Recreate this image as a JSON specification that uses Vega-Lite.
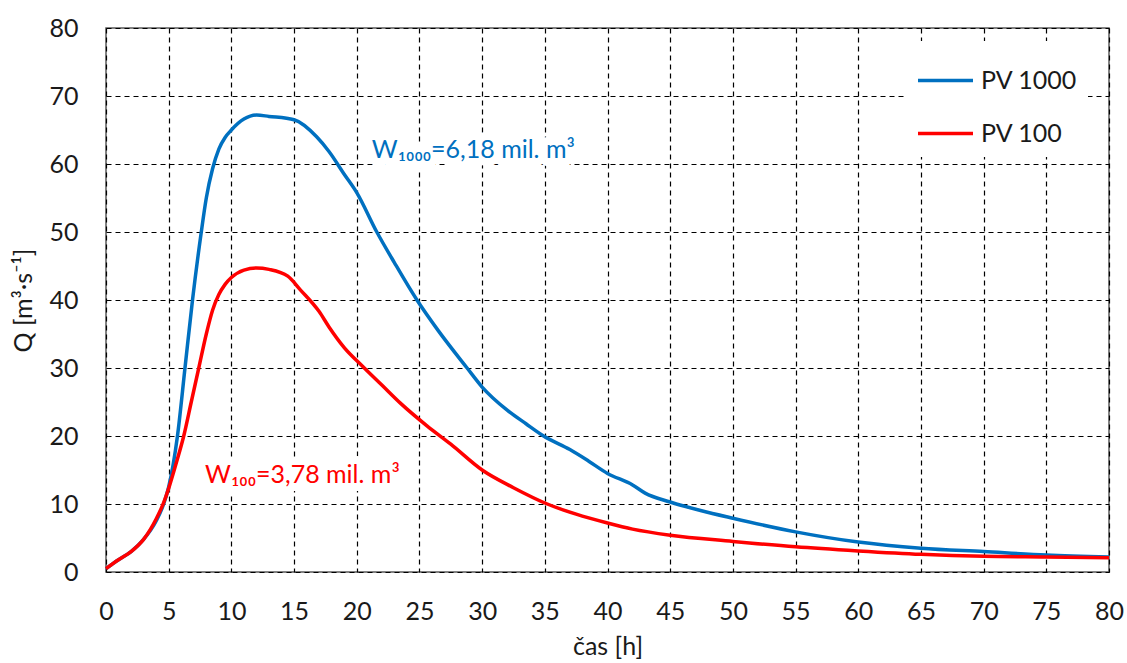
{
  "$schema": "https://vega.github.io/schema/vega-lite/v6.json",
  "width": 1003,
  "height": 544,
  "autosize": "none",
  "padding": {"left": 106, "top": 28, "right": 18, "bottom": 91},
  "background": "white",
  "config": {
    "font": "Lato",
    "view": {"stroke": "#595959", "strokeWidth": 1.5},
    "axis": {
      "labelFont": "Lato", "labelFontSize": 25, "labelColor": "#1a1a1a", "labelFlush": false,
      "titleFont": "Lato", "titleFontSize": 25, "titleColor": "#1a1a1a", "titleFontWeight": "normal",
      "ticks": false, "tickSize": 0, "domain": false,
      "grid": true, "gridColor": "#000000", "gridDash": [5, 4], "gridWidth": 1.2, "gridOpacity": 1
    },
    "legend": {"labelFont": "Lato", "labelFontSize": 25, "labelColor": "#1a1a1a"}
  },
  "datasets": {
    "flow": [
      {"t": 0, "Q": 0.5, "series": "PV 1000"},
      {"t": 1, "Q": 1.8, "series": "PV 1000"},
      {"t": 2, "Q": 3.0, "series": "PV 1000"},
      {"t": 3, "Q": 4.8, "series": "PV 1000"},
      {"t": 4, "Q": 7.5, "series": "PV 1000"},
      {"t": 4.6, "Q": 10, "series": "PV 1000"},
      {"t": 5, "Q": 12.5, "series": "PV 1000"},
      {"t": 5.7, "Q": 20, "series": "PV 1000"},
      {"t": 6.3, "Q": 30, "series": "PV 1000"},
      {"t": 6.9, "Q": 40, "series": "PV 1000"},
      {"t": 7.6, "Q": 50, "series": "PV 1000"},
      {"t": 8.0, "Q": 55, "series": "PV 1000"},
      {"t": 8.5, "Q": 59.3, "series": "PV 1000"},
      {"t": 9.0, "Q": 62.2, "series": "PV 1000"},
      {"t": 9.5, "Q": 63.9, "series": "PV 1000"},
      {"t": 10, "Q": 65.0, "series": "PV 1000"},
      {"t": 11, "Q": 66.6, "series": "PV 1000"},
      {"t": 12, "Q": 67.2, "series": "PV 1000"},
      {"t": 13, "Q": 67.0, "series": "PV 1000"},
      {"t": 15, "Q": 66.5, "series": "PV 1000"},
      {"t": 16.8, "Q": 64, "series": "PV 1000"},
      {"t": 17.8, "Q": 61.8, "series": "PV 1000"},
      {"t": 19, "Q": 58.5, "series": "PV 1000"},
      {"t": 20, "Q": 55.8, "series": "PV 1000"},
      {"t": 21.6, "Q": 50, "series": "PV 1000"},
      {"t": 23, "Q": 45.5, "series": "PV 1000"},
      {"t": 24.8, "Q": 40, "series": "PV 1000"},
      {"t": 26.5, "Q": 35.5, "series": "PV 1000"},
      {"t": 28.8, "Q": 30, "series": "PV 1000"},
      {"t": 30, "Q": 27.2, "series": "PV 1000"},
      {"t": 32, "Q": 23.8, "series": "PV 1000"},
      {"t": 33.5, "Q": 21.8, "series": "PV 1000"},
      {"t": 34.9, "Q": 20, "series": "PV 1000"},
      {"t": 37, "Q": 18, "series": "PV 1000"},
      {"t": 38.5, "Q": 16.3, "series": "PV 1000"},
      {"t": 40, "Q": 14.5, "series": "PV 1000"},
      {"t": 42, "Q": 12.8, "series": "PV 1000"},
      {"t": 43, "Q": 11.6, "series": "PV 1000"},
      {"t": 45, "Q": 10.3, "series": "PV 1000"},
      {"t": 47.5, "Q": 9.0, "series": "PV 1000"},
      {"t": 50, "Q": 7.9, "series": "PV 1000"},
      {"t": 55, "Q": 5.9, "series": "PV 1000"},
      {"t": 60, "Q": 4.4, "series": "PV 1000"},
      {"t": 65, "Q": 3.5, "series": "PV 1000"},
      {"t": 70, "Q": 3.0, "series": "PV 1000"},
      {"t": 75, "Q": 2.5, "series": "PV 1000"},
      {"t": 80, "Q": 2.2, "series": "PV 1000"},
      {"t": 0, "Q": 0.5, "series": "PV 100"},
      {"t": 1, "Q": 1.8, "series": "PV 100"},
      {"t": 2, "Q": 3.0, "series": "PV 100"},
      {"t": 3, "Q": 4.8, "series": "PV 100"},
      {"t": 4, "Q": 7.8, "series": "PV 100"},
      {"t": 4.6, "Q": 10.2, "series": "PV 100"},
      {"t": 5, "Q": 12.3, "series": "PV 100"},
      {"t": 5.6, "Q": 16, "series": "PV 100"},
      {"t": 6.2, "Q": 20, "series": "PV 100"},
      {"t": 6.8, "Q": 25, "series": "PV 100"},
      {"t": 7.4, "Q": 30, "series": "PV 100"},
      {"t": 8, "Q": 35, "series": "PV 100"},
      {"t": 8.5, "Q": 38.5, "series": "PV 100"},
      {"t": 9, "Q": 40.8, "series": "PV 100"},
      {"t": 9.5, "Q": 42.3, "series": "PV 100"},
      {"t": 10, "Q": 43.3, "series": "PV 100"},
      {"t": 11, "Q": 44.4, "series": "PV 100"},
      {"t": 12, "Q": 44.7, "series": "PV 100"},
      {"t": 13, "Q": 44.5, "series": "PV 100"},
      {"t": 14.5, "Q": 43.5, "series": "PV 100"},
      {"t": 15.5, "Q": 41.5, "series": "PV 100"},
      {"t": 17, "Q": 38.3, "series": "PV 100"},
      {"t": 17.8, "Q": 36, "series": "PV 100"},
      {"t": 19, "Q": 33, "series": "PV 100"},
      {"t": 20.5, "Q": 30.2, "series": "PV 100"},
      {"t": 22, "Q": 27.5, "series": "PV 100"},
      {"t": 23.5, "Q": 24.8, "series": "PV 100"},
      {"t": 25.6, "Q": 21.5, "series": "PV 100"},
      {"t": 27.5, "Q": 18.8, "series": "PV 100"},
      {"t": 30, "Q": 15, "series": "PV 100"},
      {"t": 32.5, "Q": 12.4, "series": "PV 100"},
      {"t": 35.2, "Q": 10, "series": "PV 100"},
      {"t": 37.5, "Q": 8.5, "series": "PV 100"},
      {"t": 40, "Q": 7.2, "series": "PV 100"},
      {"t": 42, "Q": 6.3, "series": "PV 100"},
      {"t": 45, "Q": 5.4, "series": "PV 100"},
      {"t": 50, "Q": 4.5, "series": "PV 100"},
      {"t": 55, "Q": 3.7, "series": "PV 100"},
      {"t": 60, "Q": 3.1, "series": "PV 100"},
      {"t": 65, "Q": 2.6, "series": "PV 100"},
      {"t": 70, "Q": 2.3, "series": "PV 100"},
      {"t": 75, "Q": 2.2, "series": "PV 100"},
      {"t": 80, "Q": 2.1, "series": "PV 100"}
    ],
    "notes": [
      {"t": 21.2, "Q": 62, "label": "W₁₀₀₀=6,18 mil. m³", "series": "PV 1000"},
      {"t": 7.9, "Q": 14.3, "label": "W₁₀₀=3,78 mil. m³", "series": "PV 100"}
    ]
  },
  "layer": [
    {
      "data": {"name": "flow"},
      "mark": {"type": "line", "strokeWidth": 3.5, "interpolate": "monotone"},
      "encoding": {
        "x": {
          "field": "t", "type": "quantitative",
          "scale": {"domain": [0, 80], "nice": false},
          "axis": {"values": [0, 5, 10, 15, 20, 25, 30, 35, 40, 45, 50, 55, 60, 65, 70, 75, 80], "labelPadding": 27, "title": "čas [h]", "titlePadding": 10}
        },
        "y": {
          "field": "Q", "type": "quantitative",
          "scale": {"domain": [0, 80], "nice": false},
          "axis": {"values": [0, 10, 20, 30, 40, 50, 60, 70, 80], "labelPadding": 28, "title": "Q [m³·s⁻¹]", "titlePadding": 12}
        },
        "color": {
          "field": "series", "type": "nominal",
          "scale": {"domain": ["PV 1000", "PV 100"], "range": ["#0070C0", "#FF0000"]},
          "legend": {
            "title": null, "orient": "none", "legendX": 800, "legendY": 13,
            "fillColor": "white", "padding": 10,
            "symbolType": "stroke", "symbolSize": 3025, "symbolStrokeWidth": 3.5,
            "labelOffset": 6, "rowPadding": 10
          }
        }
      }
    },
    {
      "data": {"name": "notes"},
      "mark": {"type": "text", "align": "left", "baseline": "middle", "fontSize": 25, "stroke": "white", "strokeWidth": 16, "strokeJoin": "round", "fill": "white"},
      "encoding": {
        "x": {"field": "t", "type": "quantitative"},
        "y": {"field": "Q", "type": "quantitative"},
        "text": {"field": "label"}
      }
    },
    {
      "data": {"name": "notes"},
      "mark": {"type": "text", "align": "left", "baseline": "middle", "fontSize": 25},
      "encoding": {
        "x": {"field": "t", "type": "quantitative"},
        "y": {"field": "Q", "type": "quantitative"},
        "text": {"field": "label"},
        "color": {"field": "series", "type": "nominal", "legend": null}
      }
    }
  ]
}
